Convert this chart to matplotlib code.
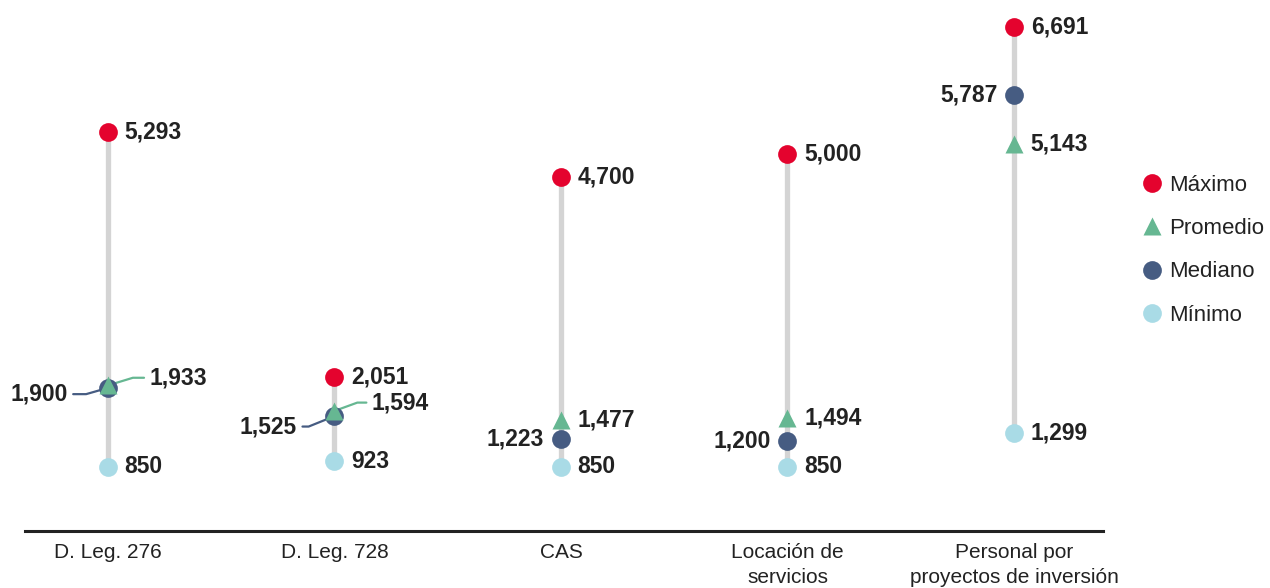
import matplotlib
matplotlib.use("Agg")
import matplotlib.pyplot as plt
from matplotlib.lines import Line2D

plt.rcParams['font.family'] = ['Liberation Sans', 'DejaVu Sans']

categories = ["D. Leg. 276", "D. Leg. 728", "CAS", "Locación de\nservicios",
              "Personal por\nproyectos de inversión"]
maximo = [5293, 2051, 4700, 5000, 6691]
promedio = [1933, 1594, 1477, 1494, 5143]
mediano = [1900, 1525, 1223, 1200, 5787]
minimo = [850, 923, 850, 850, 1299]

C_MAX = "#e4032e"
C_PROM = "#66b792"
C_MED = "#465c82"
C_MIN = "#a9dbe6"
C_BAR = "#d4d4d4"
C_TXT = "#222222"

fig = plt.figure(figsize=(12.7, 5.88), dpi=100)
ax = fig.add_axes([25 / 1270, 57 / 588, 1078 / 1270, 531 / 588])

x = list(range(len(categories)))
ax.vlines(x, minimo, maximo, color=C_BAR, lw=3.8, zorder=1)

ms = 13.5
ax.plot(x, minimo, 'o', color=C_MIN, ms=ms, mec='none', zorder=3)
ax.plot(x, mediano, 'o', color=C_MED, ms=ms, mec='none', zorder=3)
ax.plot(x, promedio, '^', color=C_PROM, ms=ms, mec='none', zorder=4)
ax.plot(x, maximo, 'o', color=C_MAX, ms=ms, mec='none', zorder=3)

lab = dict(fontsize=16.5, fontweight='bold', color=C_TXT, textcoords='offset points')


def fmt(v):
    return f"{v:,}"


def right(i, v, dy=0):
    ax.annotate(fmt(v), (i, v), xytext=(12, dy), ha='left', va='center', **lab)


def left(i, v, dy=0):
    ax.annotate(fmt(v), (i, v), xytext=(-12, dy), ha='right', va='center', **lab)


for i in x:
    right(i, maximo[i])
    right(i, minimo[i])

# Labels that sit clear of their neighbours
for i in (2, 3, 4):
    right(i, promedio[i])
    left(i, mediano[i])

# Crowded markers get leader lines
leaders = [
    # (index, value, colour, dx, dy, angle of the slanted segment)
    (0, mediano[0], C_MED, -29, -4.5, 16),
    (0, promedio[0], C_PROM, 30, 5.5, 17),
    (1, mediano[1], C_MED, -27, -7.5, 22),
    (1, promedio[1], C_PROM, 27, 6, 20),
]
for i, v, col, dx, dy, ang in leaders:
    ax.annotate(fmt(v), (i, v), xytext=(dx, dy),
                ha='right' if dx < 0 else 'left', va='center',
                arrowprops=dict(arrowstyle='-', color=col, lw=1.6,
                                shrinkA=2, shrinkB=0,
                                connectionstyle=f"angle,angleA=0,angleB={ang},rad=0"),
                zorder=2, **lab)

ax.set_xlim(-0.366, 4.393)
ax.set_ylim(0, 7050)
ax.set_xticks(x)
ax.set_xticklabels(categories, fontsize=15, color=C_TXT, va='top', linespacing=1.35)
ax.tick_params(axis='x', length=0, pad=9)
ax.set_yticks([])
for s in ('top', 'right', 'left'):
    ax.spines[s].set_visible(False)
ax.spines['bottom'].set_color(C_TXT)
ax.spines['bottom'].set_linewidth(2.2)
ax.set_facecolor('none')

handles = [
    Line2D([], [], ls='none', marker='o', color=C_MAX, ms=ms, mec='none'),
    Line2D([], [], ls='none', marker='^', color=C_PROM, ms=ms, mec='none'),
    Line2D([], [], ls='none', marker='o', color=C_MED, ms=ms, mec='none'),
    Line2D([], [], ls='none', marker='o', color=C_MIN, ms=ms, mec='none'),
]
leg = fig.legend(handles, ["Máximo", "Promedio", "Mediano", "Mínimo"],
                 loc='upper left', bbox_to_anchor=(1141 / 1270, 1 - 175 / 588),
                 frameon=False, fontsize=16, handlelength=1.0, handletextpad=0.25,
                 labelspacing=1.0, borderaxespad=0, borderpad=0)
for t in leg.get_texts():
    t.set_color(C_TXT)

fig.savefig("out.png", dpi=100)
